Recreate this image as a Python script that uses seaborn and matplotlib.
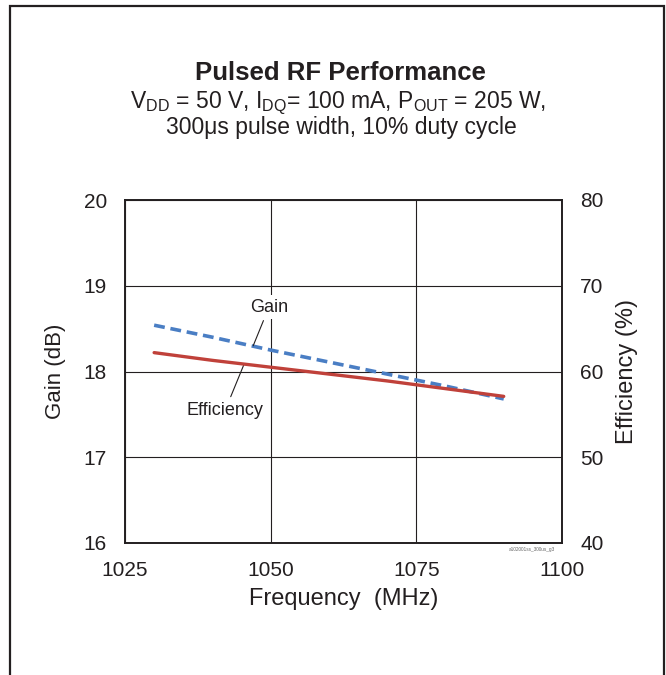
import matplotlib
matplotlib.use("Agg")
import matplotlib.pyplot as plt
import seaborn as sns
import pandas as pd
from matplotlib.patches import Rectangle

# ---- data ----
freq = [1030, 1040, 1050, 1060, 1070, 1080, 1090]
gain_db = [18.54, 18.40, 18.25, 18.11, 17.97, 17.83, 17.68]
efficiency_pct = [62.2, 61.3, 60.5, 59.7, 58.9, 58.0, 57.1]
x_ticks = [1025, 1050, 1075, 1100]
gain_ticks = [16, 17, 18, 19, 20]
eff_ticks = [40, 50, 60, 70, 80]

df = pd.DataFrame({"Frequency": freq, "Gain": gain_db, "Efficiency": efficiency_pct})

sns.set_theme(style="white")
plt.rcParams["font.family"] = ["Liberation Sans", "DejaVu Sans"]
TXT = "#231f20"

fig = plt.figure(figsize=(6.66, 6.75), dpi=100)
ax = fig.add_axes([125/666, 1-543/675, (562-125)/666, (543-200)/675])
ax2 = ax.twinx()

sns.lineplot(data=df, x="Frequency", y="Gain", ax=ax, color="#4a7ec4",
             linewidth=2.6, linestyle=(0, (3, 1.6)), zorder=4)
sns.lineplot(data=df, x="Frequency", y="Efficiency", ax=ax2, color="#c0413a",
             linewidth=2.4, zorder=3)

ax.set_xlim(1025, 1100)
ax.set_ylim(16, 20)
ax2.set_ylim(40, 80)
ax.set_xticks(x_ticks)
ax.set_yticks(gain_ticks)
ax2.set_yticks(eff_ticks)

ax.grid(True, color="#231f20", linewidth=0.8)
ax2.grid(False)
ax.set_axisbelow(True)

for a in (ax, ax2):
    a.tick_params(length=0, labelsize=15, labelcolor=TXT, pad=13)
    for s in a.spines.values():
        s.set_color("#231f20")
        s.set_linewidth(1.2)
ax.tick_params(axis="x", pad=13)

ax.set_xlabel("Frequency  (MHz)", fontsize=17, color=TXT, labelpad=6)
ax.set_ylabel("Gain (dB)", fontsize=16, color=TXT, labelpad=13)
ax2.set_ylabel("Efficiency (%)", fontsize=17, color=TXT, labelpad=9)

# annotations with leader lines
ax2.set_zorder(ax.get_zorder() + 1)
ax2.patch.set_visible(False)
ax.annotate("Gain", xy=(1047.0, 18.30), xytext=(1049.7, 18.75),
            ha="center", va="center", fontsize=13, color=TXT,
            bbox=dict(boxstyle="square,pad=0.2", fc="white", ec="none"),
            arrowprops=dict(arrowstyle="-", color=TXT, lw=0.8, shrinkA=1, shrinkB=0),
            zorder=5)
ax.annotate("Efficiency", xy=(1045.4, 18.08), xytext=(1042.2, 17.55),
            ha="center", va="center", fontsize=13, color=TXT,
            bbox=dict(boxstyle="square,pad=0.2", fc="white", ec="none"),
            arrowprops=dict(arrowstyle="-", color=TXT, lw=0.8, shrinkA=1, shrinkB=0),
            zorder=5)

ax.text(0.985, -0.012, "a102001ss_300us_g3", transform=ax.transAxes,
        ha="right", va="top", fontsize=3.4, color="#666666")

# titles
fig.text(340/666, 1-80/675, "Pulsed RF Performance", ha="center", va="baseline",
         fontsize=18.5, fontweight="bold", color=TXT)
fig.text(338/666, 1-108/675,
         r"V$_{\mathregular{DD}}$ = 50 V, I$_{\mathregular{DQ}}$= 100 mA, P$_{\mathregular{OUT}}$ = 205 W,",
         ha="center", va="baseline", fontsize=16.5, color=TXT)
fig.text(341/666, 1-134/675, "300μs pulse width, 10% duty cycle", ha="center",
         va="baseline", fontsize=16.5, color=TXT)

# outer frame
fig.patches.append(Rectangle((10/666, -0.05), (664-10)/666, 1.05 - 6/675,
                             transform=fig.transFigure, fill=False,
                             edgecolor="#231f20", linewidth=1.6))

fig.savefig("out.png", dpi=100)
